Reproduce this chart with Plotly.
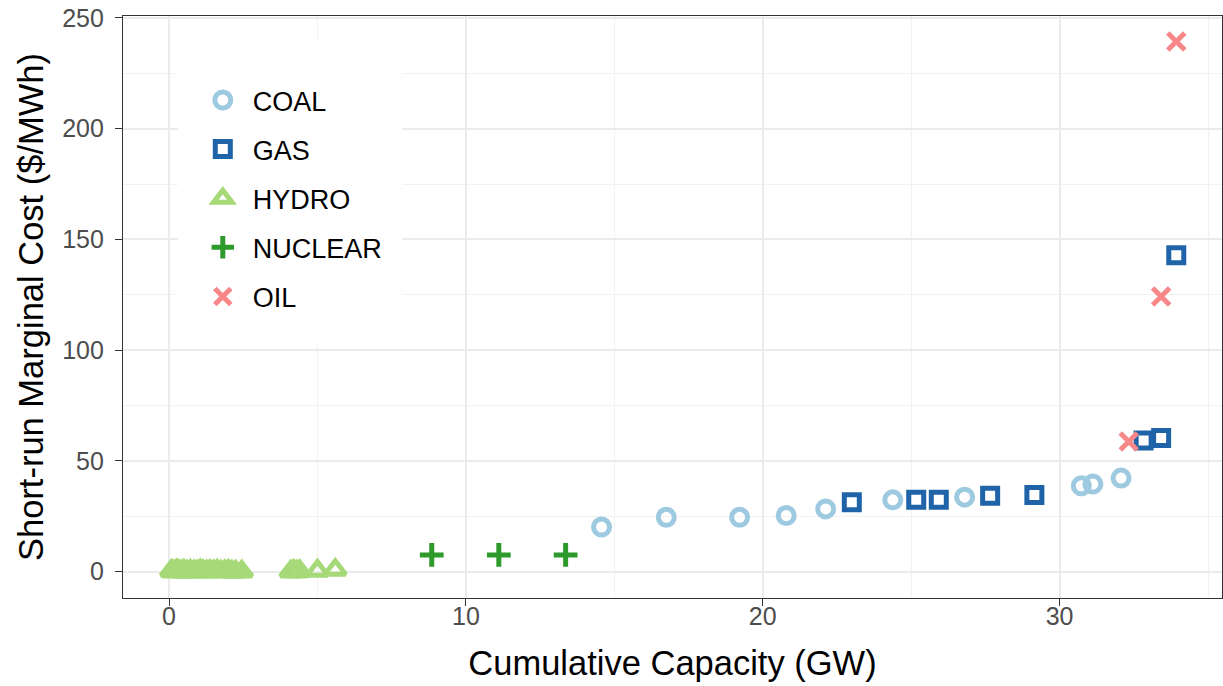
import plotly.graph_objects as go

# Supply-curve data: cumulative capacity (GW) vs short-run marginal cost ($/MWh)
coal_capacity = [14.57, 16.75, 19.22, 20.79, 22.12, 24.38, 26.80, 30.73, 31.12, 32.07]
coal_cost = [20.1, 24.5, 24.5, 25.3, 28.3, 32.4, 33.6, 38.7, 39.5, 42.2]

gas_capacity = [23.00, 25.17, 25.93, 27.66, 29.15, 32.83, 33.42, 33.93]
gas_cost = [31.3, 32.4, 32.4, 34.2, 34.6, 59.2, 60.3, 142.8]

hydro_capacity = [0.08, 0.15, 0.25, 0.33, 0.42, 0.50, 0.60, 0.72, 0.85, 0.95, 1.05,
                  1.15, 1.27, 1.38, 1.50, 1.62, 1.75, 1.88, 2.00, 2.12, 2.25, 2.45,
                  4.10, 4.20, 4.30, 4.40, 5.00, 5.60]
hydro_cost = [0.3, 0.0, 0.5, 0.2, 0.0, 0.4, 0.0, 0.3, 0.1, 0.0, 0.5,
              0.2, 0.0, 0.3, 0.1, 0.4, 0.0, 0.2, 0.3, 0.0, 0.0, 0.0,
              0.0, 0.3, 0.0, 0.2, 0.4, 0.8]

nuclear_capacity = [8.85, 11.11, 13.36]
nuclear_cost = [7.5, 7.5, 7.5]

oil_capacity = [32.33, 33.42, 33.93]
oil_cost = [58.7, 124.2, 239.4]

fuel_names = ["COAL", "GAS", "HYDRO", "NUCLEAR", "OIL"]
fuel_colors = ["#9ECAE1", "#1F63A8", "#A6D977", "#2E9A2B", "#F8878A"]
fuel_symbols = ["circle-open", "square-open", "triangle-up-open", "cross-thin-open", "x-thin-open"]
fuel_sizes = [16, 15, 18, 17, 17]

series = [
    (coal_capacity, coal_cost),
    (gas_capacity, gas_cost),
    (hydro_capacity, hydro_cost),
    (nuclear_capacity, nuclear_cost),
    (oil_capacity, oil_cost),
]

FONT = "Liberation Sans, Arial, sans-serif"

fig = go.Figure()
for (xs, ys), name, color, symbol, size in zip(series, fuel_names, fuel_colors, fuel_symbols, fuel_sizes):
    fig.add_trace(go.Scatter(
        x=xs, y=ys, mode="markers", name=name, legendgroup=name,
        marker=dict(symbol=symbol, size=size, color=color,
                    line=dict(color=color, width=5)),
    ))

grid_major = "#EBEBEB"
grid_minor = "#F2F2F2"
frame = "#333333"

axis_common = dict(
    showline=True, linecolor=frame, linewidth=1.3, mirror=True,
    ticks="outside", ticklen=7, tickwidth=1.3, tickcolor=frame,
    tickfont=dict(family=FONT, size=25, color="#4D4D4D"),
    showgrid=True, gridcolor=grid_major, gridwidth=2,
    zeroline=False,
)

fig.update_xaxes(
    range=[-1.55, 35.47], dtick=10, tick0=0,
    minor=dict(dtick=5, tick0=0, showgrid=True, gridcolor=grid_minor, gridwidth=1, ticks=""),
    title=dict(text="Cumulative Capacity (GW)", standoff=21,
               font=dict(family=FONT, size=34.5, color="#000000")),
    ticklabelstandoff=-11,
    **axis_common,
)
fig.update_yaxes(
    range=[-11.95, 250.9], dtick=50, tick0=0,
    minor=dict(dtick=25, tick0=0, showgrid=True, gridcolor=grid_minor, gridwidth=1, ticks=""),
    title=dict(text="Short-run Marginal Cost ($/MWh)", standoff=8,
               font=dict(family=FONT, size=34.5, color="#000000")),
    ticklabelstandoff=6,
    **axis_common,
)

# white panel behind the legend, covering the grid in that corner
fig.add_shape(type="rect", xref="paper", yref="paper",
              x0=0.050, x1=0.254, y0=0.439, y1=0.955,
              fillcolor="white", line=dict(width=0), layer="above")

fig.update_layout(
    width=1223, height=686,
    margin=dict(l=123, r=1, t=16, b=88),
    plot_bgcolor="white", paper_bgcolor="white",
    font=dict(family=FONT),
    legend=dict(
        x=0.0635, y=0.897, xanchor="left", yanchor="top",
        bgcolor="rgba(0,0,0,0)", borderwidth=0,
        font=dict(size=27, color="#000000"),
        tracegroupgap=11, itemsizing="trace", itemwidth=50,
    ),
)

fig.write_html("out.html")
